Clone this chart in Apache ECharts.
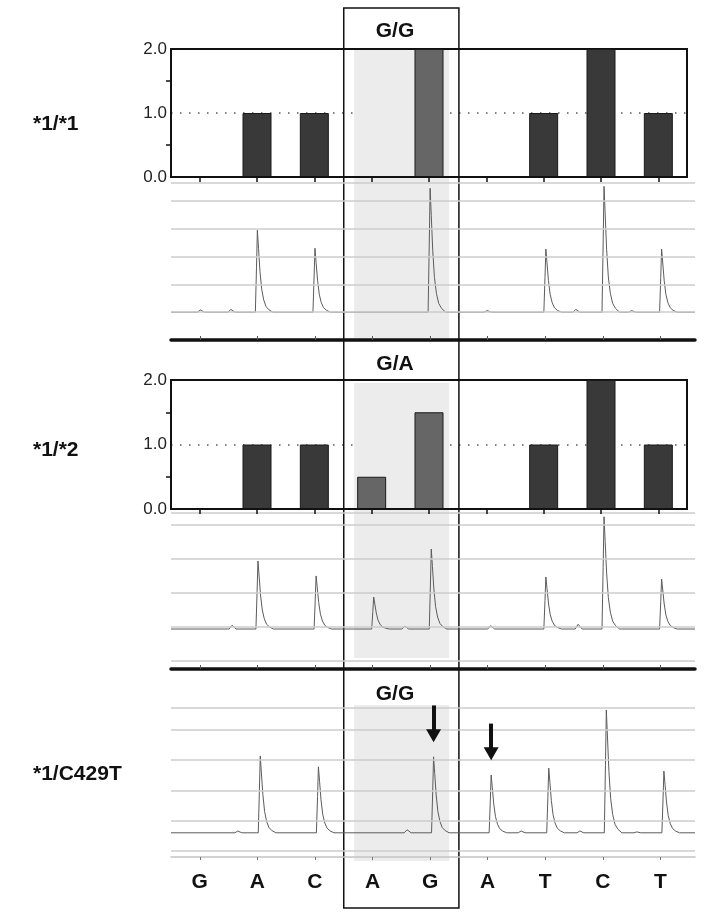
<!DOCTYPE html>
<html><head><meta charset="utf-8">
<script src="https://cdn.jsdelivr.net/npm/echarts@6/dist/echarts.min.js"></script>
<style>html,body{margin:0;padding:0;background:#fff}#c{width:712px;height:912px}</style>
</head><body><div id="c"></div>
<script>
// ---------- data ----------
const dispensation = ['G','A','C','A','G','A','T','C','T'];
const barValues1 = [0, 1, 1, 0, 2, 0, 1, 2, 1];
const barValues2 = [0, 1, 1, 0.5, 1.5, 0, 1, 2, 1];
const barTicks = [0, 1, 2];
const rowLabels = ['*1/*1', '*1/*2', '*1/C429T'];
const siteLabels = ['G/G', 'G/A', 'G/G'];
const snpIndices = [3, 4];

// pyrogram peaks: [position in dispensation units, peak top on the panel axis]
const base1 = 0;
const peaks1 = [[1.50, 2.95], [2.50, 2.30], [4.50, 4.46], [6.51, 2.27], [7.52, 4.53], [8.52, 2.27]];
const bumps1 = [[0.51, 0.08], [1.04, 0.10], [5.49, 0.06], [7.03, 0.10], [8.00, 0.06]];
const base2 = -0.06;
const peaks2 = [[1.51, 1.94], [2.52, 1.50], [3.52, 0.88], [4.52, 2.29], [6.51, 1.47], [7.52, 3.24], [8.52, 1.41]];
const bumps2 = [[1.06, 0.05], [4.06, 0.02], [5.55, 0.04], [7.07, 0.08]];
const base3 = 0.6;
const peaks3 = [[1.55, 3.14], [2.56, 2.78], [4.56, 3.11], [5.56, 2.51], [6.56, 2.74], [7.56, 4.66], [8.56, 2.64]];
const bumps3 = [[1.16, 0.66], [4.10, 0.70], [6.08, 0.66], [7.10, 0.66], [8.09, 0.63]];
const arrowPeakIdx3 = [2, 3];

// peak profile: [dx, fraction of height]
const peakShape = [[-0.035, 0], [-0.015, 0.55], [0, 1], [0.02, 0.78], [0.045, 0.5], [0.075, 0.28], [0.11, 0.15], [0.15, 0.07], [0.2, 0.03], [0.27, 0]];
const bumpShape = [[-0.05, 0], [0, 1], [0.07, 0]];

// pyrogram horizontal gridline values
const gridLines1 = [0, 1, 2, 3, 4, 4.65];
const gridLines2 = [-1, 0, 1, 2, 3, 3.35];
const gridLines3 = [0, 1, 2, 3, 4, 4.73];

// ---------- build ----------
const X_MAX = 9.1;
const centers = dispensation.map((_, i) => i + 0.5);
const shadeRange = [3.18, 4.83];
const boxRange = [3, 5];

function buildTrace(base, peaks, bumps) {
  const pts = [];
  peaks.forEach(([x, top]) => peakShape.forEach(([dx, f]) => pts.push([x + dx, base + (top - base) * f])));
  bumps.forEach(([x, top]) => bumpShape.forEach(([dx, f]) => pts.push([x + dx, base + (top - base) * f])));
  pts.sort((a, b) => a[0] - b[0]);
  return [[0, base], ...pts, [X_MAX, base]];
}

const FONT = 'Liberation Sans';
const boldText = { fontFamily: FONT, fontSize: 21, fontWeight: 'bold', color: '#111' };

function barData(vals) {
  return vals.map((v, i) => ({
    value: v,
    itemStyle: { color: snpIndices.includes(i) ? '#666666' : '#393939' }
  }));
}

const gridsPx = [
  { left: 171, top: 49, width: 516, height: 128 },   // 0 bars 1
  { left: 171, top: 183, width: 524, height: 157 },  // 1 pyro 1
  { left: 171, top: 380, width: 516, height: 129 },  // 2 bars 2
  { left: 171, top: 513, width: 524, height: 156 },  // 3 pyro 2
  { left: 171, top: 700, width: 524, height: 157 },  // 4 pyro 3
  { left: 171, top: 50, width: 524, height: 288 },   // 5 shade 1
  { left: 171, top: 383, width: 524, height: 275 },  // 6 shade 2
  { left: 171, top: 705, width: 524, height: 156 },  // 7 shade 3
  { left: 171, top: 8, width: 524, height: 900 }     // 8 site box
];
const grid = gridsPx.map((g, i) => Object.assign({
  outerBoundsMode: 'none', containLabel: false,
  show: i === 0 || i === 2,
  borderColor: '#111', borderWidth: 2, backgroundColor: 'rgba(0,0,0,0)'
}, g));

function barX(gi) {
  return {
    type: 'category', gridIndex: gi, data: dispensation, boundaryGap: true, z: 5,
    axisLine: { show: true, lineStyle: { color: '#111', width: 2 } },
    axisTick: { show: true, alignWithLabel: true, length: 5, lineStyle: { color: '#111', width: 1.5 } },
    axisLabel: { show: false }, splitLine: { show: false }
  };
}
function pyroX(gi) {
  return {
    type: 'value', gridIndex: gi, min: 0, max: X_MAX, z: 5,
    axisLine: { show: true, onZero: false, lineStyle: { color: '#111', width: 3.5 } },
    axisTick: { show: true, inside: true, length: 4, customValues: centers, lineStyle: { color: '#555', width: 1 } },
    axisLabel: { show: false }, splitLine: { show: false }
  };
}
function hiddenX(gi) {
  return { type: 'value', gridIndex: gi, min: 0, max: X_MAX, show: false };
}
function barY(gi) {
  return {
    type: 'value', gridIndex: gi, min: 0, max: 2, interval: 1, z: 0,
    axisLine: { show: true, lineStyle: { color: '#111', width: 2 } },
    axisTick: { show: false },
    minorTick: { show: true, splitNumber: 2, length: 5, lineStyle: { color: '#111', width: 1.5 } },
    minorSplitLine: { show: false },
    axisLabel: {
      show: true, margin: 4, fontFamily: FONT, fontSize: 17, color: '#222',
      customValues: barTicks, formatter: v => Number(v).toFixed(1)
    },
    splitLine: {
      show: true, showMinLine: false, showMaxLine: false,
      lineStyle: { color: '#555', width: 1.5, type: [1.5, 7.5] }
    }
  };
}
function hiddenY(gi, min, max) {
  return { type: 'value', gridIndex: gi, min: min, max: max, show: false, splitLine: { show: false } };
}

const xAxis = [
  barX(0),
  pyroX(1),
  barX(2),
  pyroX(3),
  {
    type: 'value', gridIndex: 4, min: 0, max: X_MAX, z: 5,
    axisLine: { show: true, onZero: false, lineStyle: { color: '#c4c4c4', width: 1.5 } },
    axisTick: { show: true, length: 3, customValues: centers, lineStyle: { color: '#777', width: 1 } },
    axisLabel: {
      show: true, margin: 15, customValues: centers,
      formatter: v => dispensation[Math.round(v - 0.5)],
      fontFamily: FONT, fontSize: 21, fontWeight: 'bold', color: '#111'
    },
    splitLine: { show: false }
  },
  hiddenX(5), hiddenX(6), hiddenX(7), hiddenX(8)
];
const yAxis = [
  barY(0),
  hiddenY(1, -1, 4.65),
  barY(2),
  hiddenY(3, -1.235, 3.35),
  hiddenY(4, -0.2, 4.99),
  hiddenY(5, 0, 1), hiddenY(6, 0, 1), hiddenY(7, 0, 1), hiddenY(8, 0, 1)
];

function gridLineSeries(gi, vals) {
  return {
    type: 'line', xAxisIndex: gi, yAxisIndex: gi, data: [], z: 2, silent: true,
    markLine: {
      silent: true, symbol: ['none', 'none'], label: { show: false }, animation: false,
      lineStyle: { color: '#cdcdcd', width: 1.5, type: 'solid' },
      data: vals.map(v => ({ yAxis: v }))
    }
  };
}
function traceSeries(gi, base, peaks, bumps) {
  return {
    type: 'line', xAxisIndex: gi, yAxisIndex: gi, z: 4, silent: true,
    showSymbol: false, symbol: 'none', smooth: false, clip: true,
    lineStyle: { color: '#5c5c5c', width: 1 },
    data: buildTrace(base, peaks, bumps)
  };
}
function shadeSeries(gi) {
  return {
    type: 'line', xAxisIndex: gi, yAxisIndex: gi, data: [], z: 1, silent: true,
    markArea: {
      silent: true, itemStyle: { color: '#ececec' },
      data: [[{ xAxis: shadeRange[0], yAxis: 0 }, { xAxis: shadeRange[1], yAxis: 1 }]]
    }
  };
}
function barSeries(gi, vals) {
  return {
    type: 'bar', xAxisIndex: gi, yAxisIndex: gi, z: 3, barWidth: 29, silent: true,
    itemStyle: { borderColor: '#1a1a1a', borderWidth: 1 },
    data: barData(vals)
  };
}

const arrowGap = 0.7, arrowLen = 1.0;
const arrowSeries = {
  type: 'line', xAxisIndex: 4, yAxisIndex: 4, data: [], z: 6, silent: true,
  markLine: {
    silent: true, symbol: ['none', 'triangle'], symbolSize: [15, 13], label: { show: false },
    lineStyle: { color: '#111', width: 4, type: 'solid' },
    itemStyle: { color: '#111' },
    data: arrowPeakIdx3.map(i => {
      const [x, top] = peaks3[i];
      return [{ coord: [x, top + arrowGap + arrowLen] }, { coord: [x, top + arrowGap] }];
    })
  }
};

const boxSeries = {
  type: 'line', xAxisIndex: 8, yAxisIndex: 8, data: [], z: 10, silent: true,
  markArea: {
    silent: true,
    itemStyle: { color: 'rgba(0,0,0,0)', borderColor: '#111', borderWidth: 1.5 },
    data: [[{ xAxis: boxRange[0], yAxis: 0 }, { xAxis: boxRange[1], yAxis: 1 }]]
  }
};

const rowTops = [114, 440, 764];
const siteTops = [21, 354, 684];
const title = [
  ...rowLabels.map((t, i) => ({ text: t, left: 33, top: rowTops[i], padding: 0, textStyle: boldText })),
  ...siteLabels.map((t, i) => ({ text: t, left: 395, top: siteTops[i], padding: 0, textAlign: 'center', textStyle: boldText }))
];

const option = {
  animation: false,
  backgroundColor: '#ffffff',
  textStyle: { fontFamily: FONT },
  title: title,
  grid: grid,
  xAxis: xAxis,
  yAxis: yAxis,
  series: [
    shadeSeries(5), shadeSeries(6), shadeSeries(7),
    barSeries(0, barValues1),
    barSeries(2, barValues2),
    gridLineSeries(1, gridLines1),
    gridLineSeries(3, gridLines2),
    gridLineSeries(4, gridLines3),
    traceSeries(1, base1, peaks1, bumps1),
    traceSeries(3, base2, peaks2, bumps2),
    traceSeries(4, base3, peaks3, bumps3),
    arrowSeries,
    boxSeries
  ]
};

const chart = echarts.init(document.getElementById('c'), null, { renderer: 'canvas' });
chart.setOption(option);
</script>
</body></html>
